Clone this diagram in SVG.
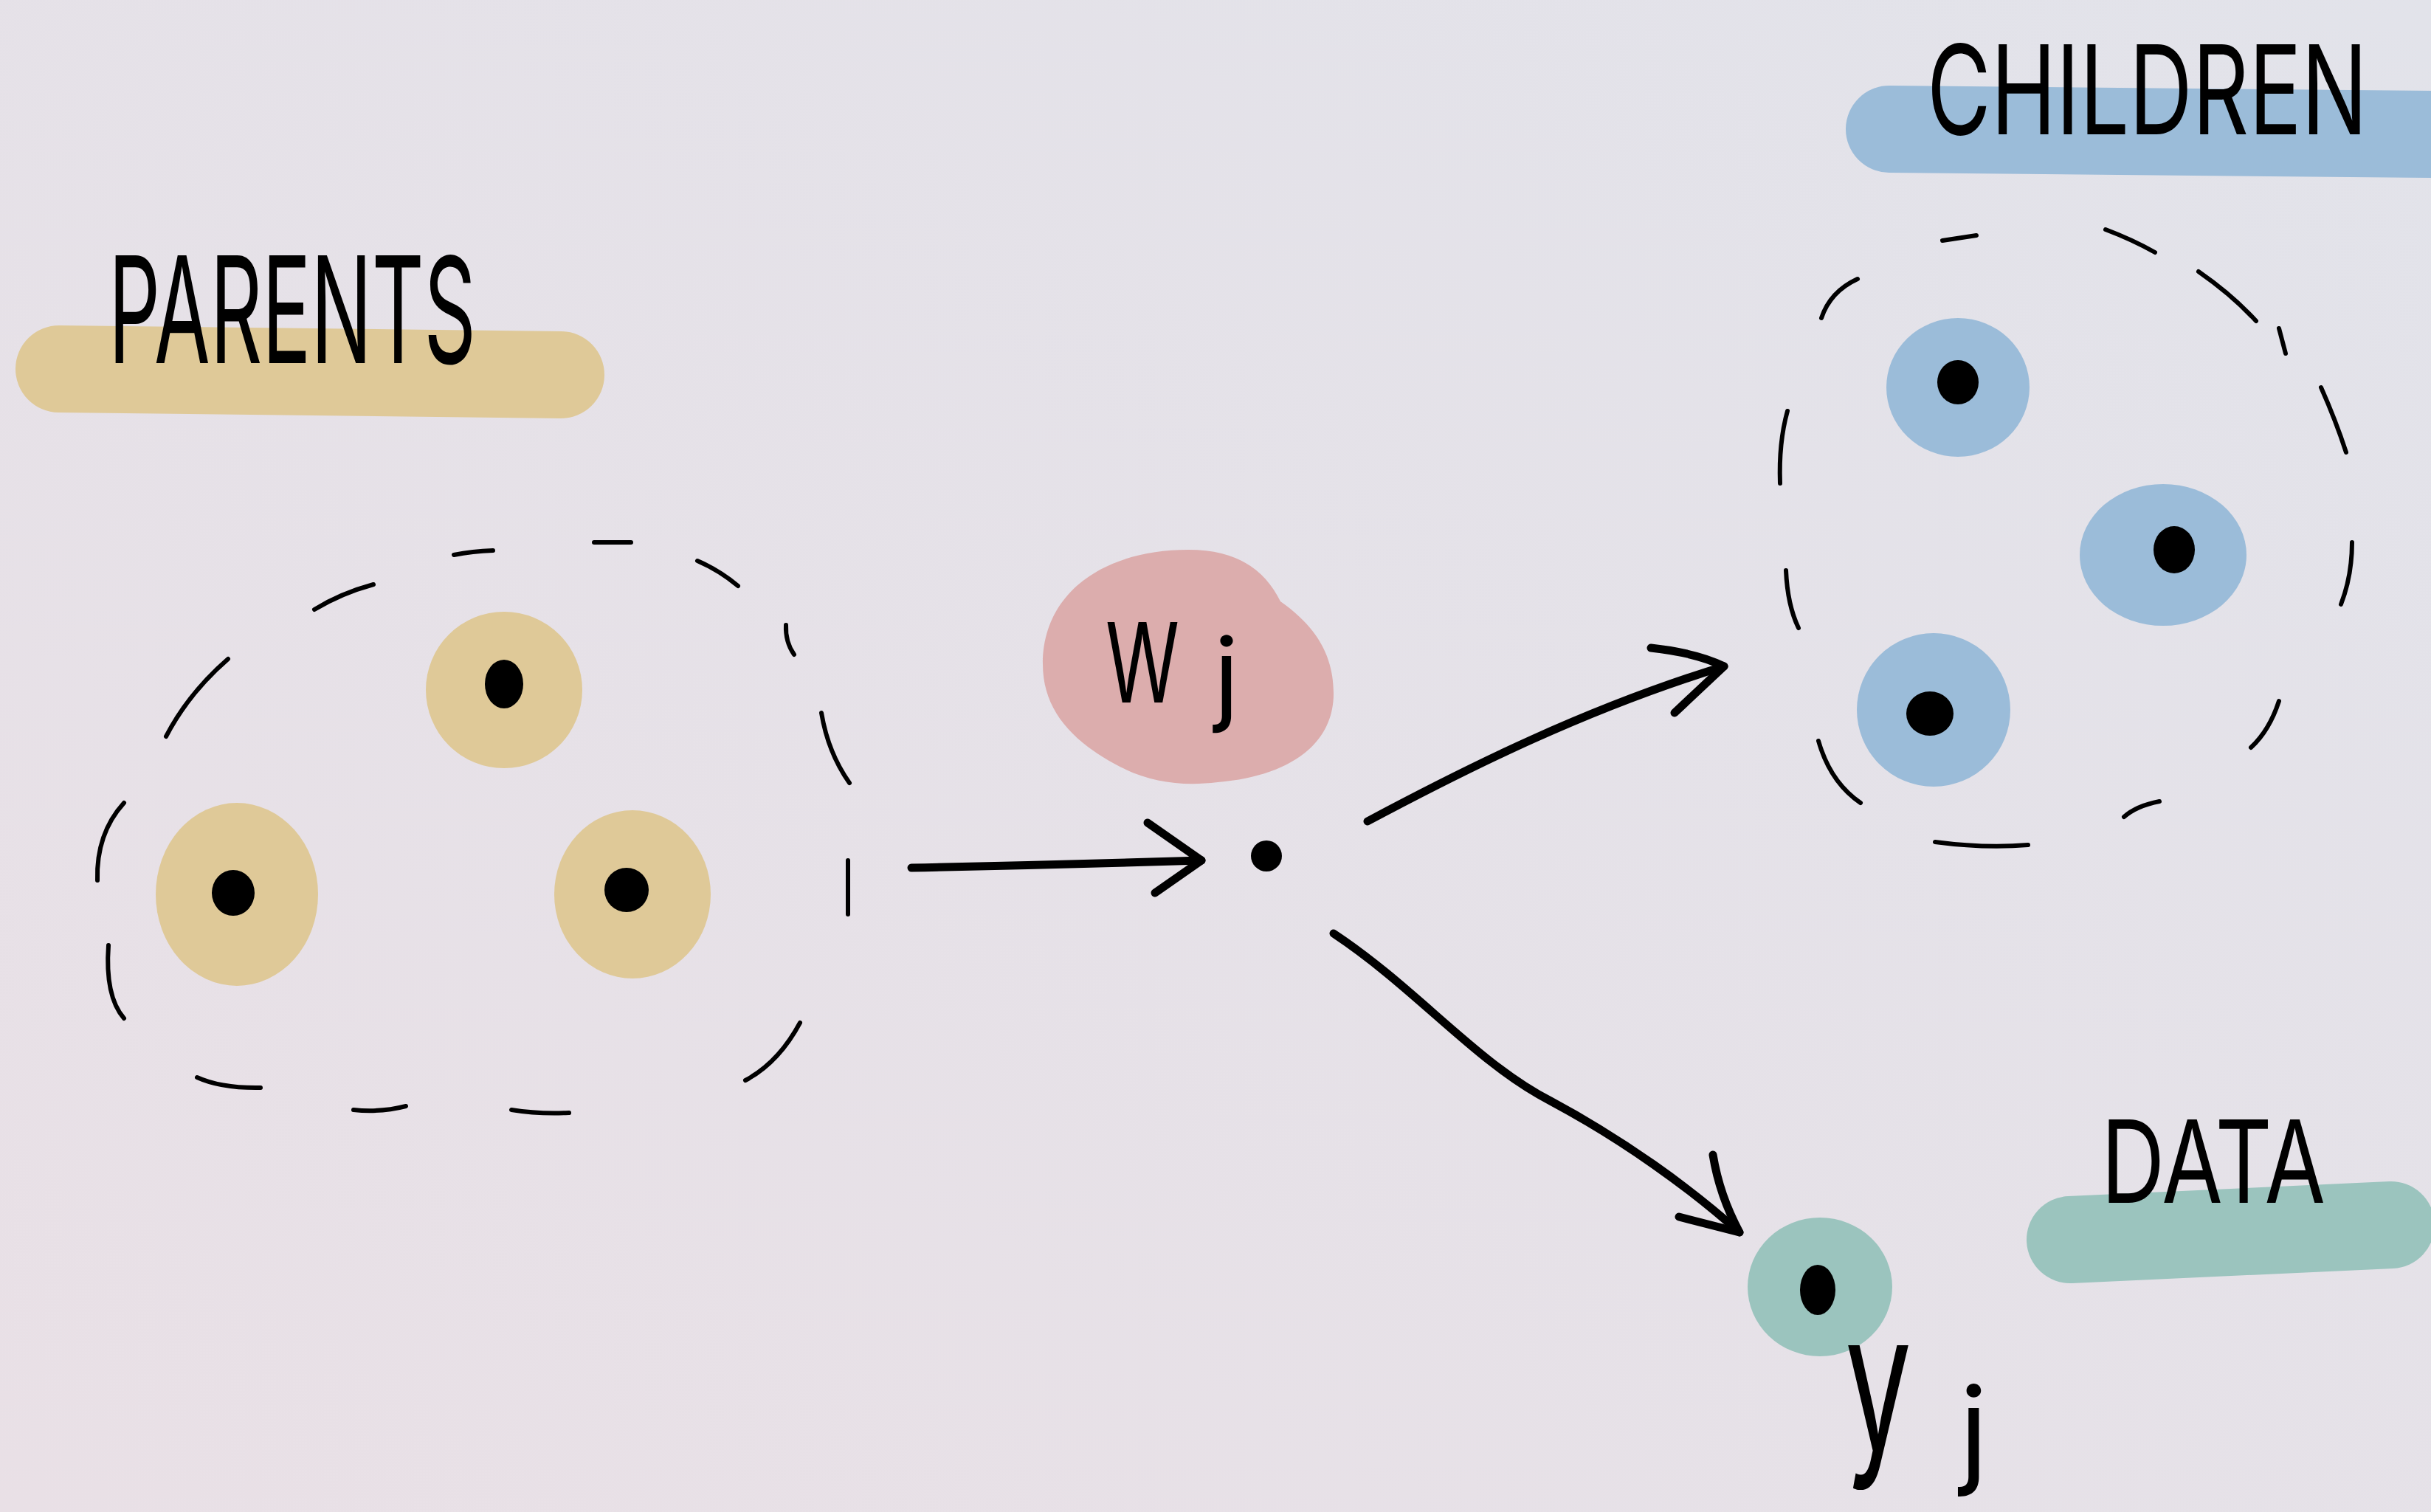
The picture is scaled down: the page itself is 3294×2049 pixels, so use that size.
<svg xmlns="http://www.w3.org/2000/svg" width="3294" height="2049" viewBox="0 0 3294 2049">
<defs>
<linearGradient id="bg" x1="0" y1="1" x2="1" y2="0">
<stop offset="0" stop-color="#e9e0e6"/>
<stop offset="1" stop-color="#e2e3ea"/>
</linearGradient>
<style>
.ink{fill:none;stroke:#000;stroke-linecap:round;stroke-linejoin:round}
.dash{stroke-width:6}
.arrow{stroke-width:11}
.dot{fill:#000}
.lbl{font-family:Inter,"Liberation Sans",sans-serif;font-weight:400;fill:#000}
.hl{stroke-linecap:round;fill:none}
</style>
</defs>
<rect width="3294" height="2049" fill="url(#bg)"/>

<g id="parents-label">
<path class="hl" d="M 80 500 L 760 508" stroke="#dfc998" stroke-width="118"/>
<text class="lbl" x="147" y="492" font-size="200" textLength="498" lengthAdjust="spacingAndGlyphs">PARENTS</text>
</g>

<g id="children-label">
<path class="hl" d="M 2560 175 L 3294 182" stroke="#9bbcd9" stroke-width="118"/>
<text class="lbl" x="2611" y="182" font-size="168" textLength="597" lengthAdjust="spacingAndGlyphs">CHILDREN</text>
</g>

<g id="data-label">
<path class="hl" d="M 2805 1680 L 3240 1660" stroke="#9bc4be" stroke-width="118"/>
<text class="lbl" x="2847" y="1630" font-size="155" textLength="304" lengthAdjust="spacingAndGlyphs">DATA</text>
</g>

<g id="parents-group">
<g class="ink dash">
<path d="M 426 826 Q 462 804 506 792"/>
<path d="M 615 752 Q 640 747 668 746"/>
<path d="M 805 735 L 855 735"/>
<path d="M 945 760 Q 975 773 1000 794"/>
<path d="M 1065 847 Q 1064 870 1076 887"/>
<path d="M 1113 966 Q 1122 1020 1151 1061"/>
<path d="M 1149 1166 L 1149 1239"/>
<path d="M 1084 1386 Q 1055 1440 1010 1464"/>
<path d="M 693 1504 Q 730 1510 771 1508"/>
<path d="M 479 1504 Q 515 1508 550 1499"/>
<path d="M 267 1460 Q 300 1475 353 1474"/>
<path d="M 147 1281 Q 142 1350 168 1380"/>
<path d="M 168 1088 Q 130 1130 132 1193"/>
<path d="M 309 893 Q 255 940 225 998"/>
</g>
</g>

<g id="parent-1">
<circle cx="683" cy="935" r="106" fill="#dfc998"/>
<ellipse class="dot" cx="683" cy="927" rx="26" ry="33"/>
</g>
<g id="parent-2">
<ellipse cx="321" cy="1212" rx="110" ry="124" fill="#dfc998"/>
<ellipse class="dot" cx="316" cy="1210" rx="29" ry="31"/>
</g>
<g id="parent-3">
<ellipse cx="857" cy="1212" rx="106" ry="114" fill="#dfc998"/>
<ellipse class="dot" cx="849" cy="1206" rx="30" ry="30"/>
</g>

<g id="w-node">
<path d="M 1413 900 C 1413 800 1500 745 1610 745 C 1680 745 1715 775 1735 815 C 1785 850 1807 890 1807 940 C 1807 1010 1745 1052 1650 1060 C 1600 1066 1555 1060 1510 1035 C 1450 1002 1413 960 1413 900 Z" fill="#dcadad"/>
<text class="lbl" x="1498" y="952" font-size="150" textLength="100" lengthAdjust="spacingAndGlyphs">W</text>
<text class="lbl" x="1645" y="965" font-size="140">j</text>
<circle class="dot" cx="1716" cy="1160" r="21"/>
</g>

<g id="children-group">
<g class="ink dash">
<path d="M 2632 326 L 2678 319"/>
<path d="M 2853 311 Q 2890 325 2920 342"/>
<path d="M 2979 368 Q 3025 400 3057 435"/>
<path d="M 3088 445 L 3097 479"/>
<path d="M 3145 525 Q 3165 570 3179 613"/>
<path d="M 3187 735 Q 3187 780 3172 819"/>
<path d="M 3088 950 Q 3075 990 3050 1013"/>
<path d="M 2926 1086 Q 2895 1092 2878 1107"/>
<path d="M 2622 1141 Q 2690 1150 2748 1145"/>
<path d="M 2464 1004 Q 2480 1060 2521 1088"/>
<path d="M 2420 773 Q 2422 820 2437 851"/>
<path d="M 2422 557 Q 2410 600 2412 655"/>
<path d="M 2517 378 Q 2480 395 2468 431"/>
</g>
</g>

<g id="child-1">
<ellipse cx="2653" cy="525" rx="97" ry="94" fill="#9bbcd9"/>
<ellipse class="dot" cx="2653" cy="518" rx="28" ry="30"/>
</g>
<g id="child-2">
<ellipse cx="2931" cy="752" rx="113" ry="96" fill="#9bbcd9"/>
<ellipse class="dot" cx="2946" cy="745" rx="28" ry="32"/>
</g>
<g id="child-3">
<ellipse cx="2620" cy="962" rx="104" ry="104" fill="#9bbcd9"/>
<ellipse class="dot" cx="2615" cy="967" rx="32" ry="30"/>
</g>

<g id="data-node">
<ellipse cx="2466" cy="1744" rx="98" ry="94" fill="#9bc4be"/>
<ellipse class="dot" cx="2463" cy="1748" rx="24" ry="34"/>
<text class="lbl" x="2500" y="1965" font-size="260" textLength="90" lengthAdjust="spacingAndGlyphs">y</text>
<text class="lbl" x="2655" y="1995" font-size="160">j</text>
</g>

<g id="connectors" class="ink arrow">
<path d="M 1235 1176 Q 1430 1172 1628 1166"/>
<path d="M 1555 1115 L 1628 1166 L 1565 1210"/>
<path d="M 1853 1113 C 1990 1040 2150 960 2336 903"/>
<path d="M 2237 878 Q 2300 885 2336 903 L 2269 966"/>
<path d="M 1807 1265 C 1920 1340 2000 1440 2101 1492 C 2200 1545 2290 1610 2357 1670"/>
<path d="M 2321 1565 Q 2330 1620 2357 1670 L 2275 1649"/>
</g>
</svg>
